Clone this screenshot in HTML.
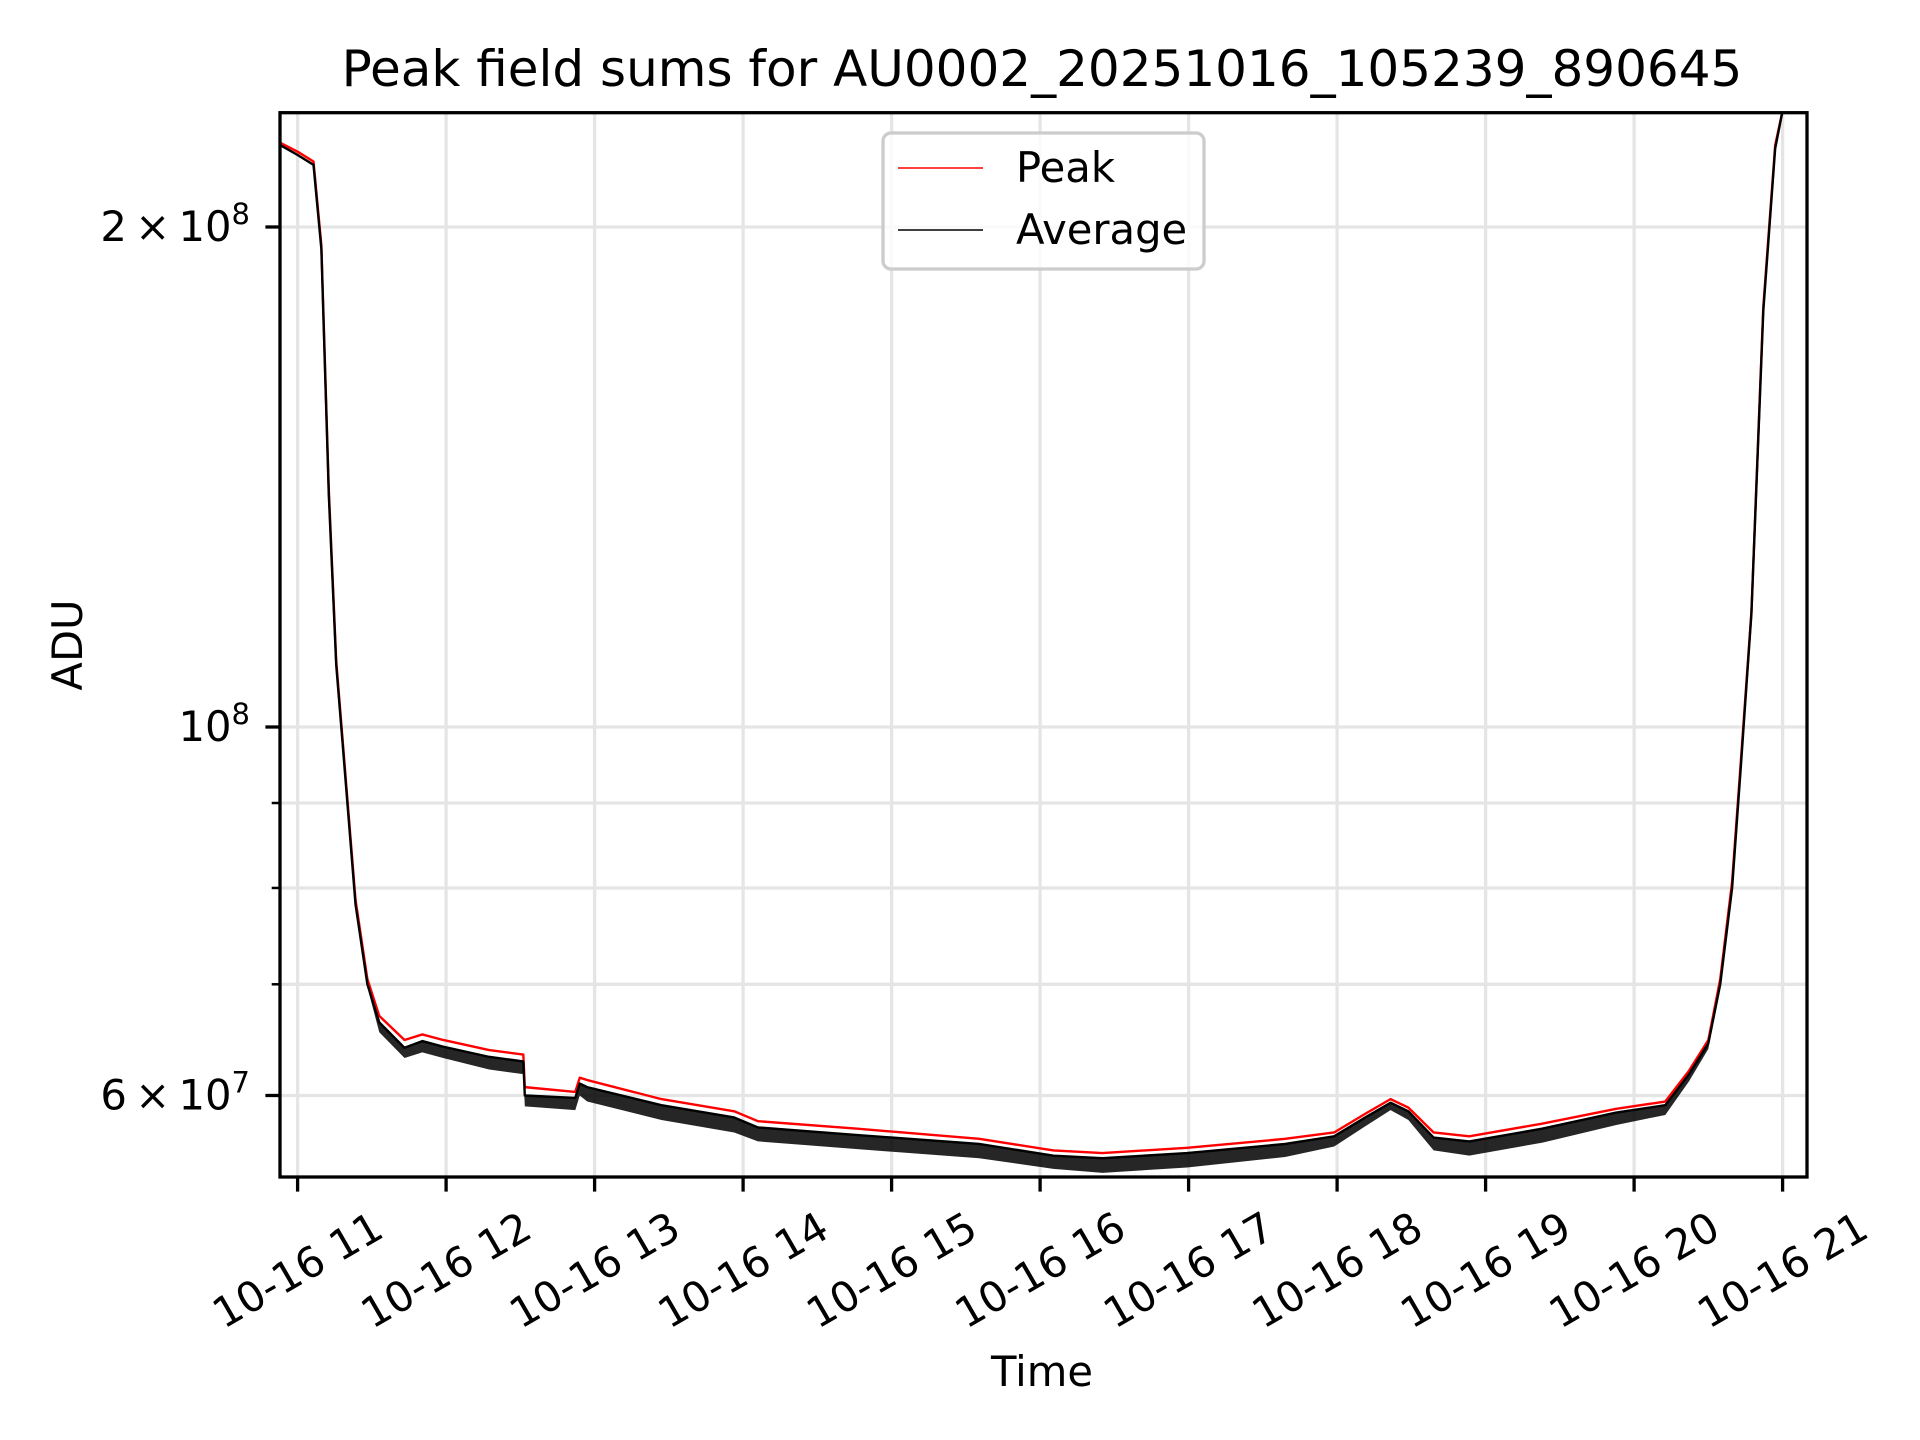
<!DOCTYPE html>
<html><head><meta charset="utf-8"><style>
html,body{margin:0;padding:0;background:#fff;}
svg{display:block;font-family:"DejaVu Sans","Liberation Sans",sans-serif;}
</style></head><body>
<svg id="chart" width="1920" height="1440" viewBox="0 0 1920 1440" xmlns="http://www.w3.org/2000/svg">
<rect width="1920" height="1440" fill="#fff"/>
<defs><clipPath id="clip"><rect x="280" y="112.7" width="1527" height="1064.3"/></clipPath></defs>
<text x="1042" y="86" font-size="50" text-anchor="middle">Peak field sums for AU0002_20251016_105239_890645</text>
<g id="grid"></g>
<g id="series" clip-path="url(#clip)"></g>
<rect x="280" y="112.7" width="1527" height="1064.3" fill="none" stroke="#000" stroke-width="3.3"/>
<g id="xticks"></g>
<g id="yticks"></g>
<text x="1042" y="1386" font-size="41.7" text-anchor="middle">Time</text>
<text transform="translate(82,645) rotate(-90)" font-size="41.7" text-anchor="middle">ADU</text>
<g>
<rect x="883" y="133" width="321" height="136" rx="8" fill="#fff" fill-opacity="0.8" stroke="#ccc" stroke-width="3.3"/>
<line x1="898" y1="168" x2="983" y2="168" stroke="#f00" stroke-width="1.6"/>
<text x="1016" y="182" font-size="41.7">Peak</text>
<line x1="898" y1="230" x2="983" y2="230" stroke="#000" stroke-width="1.6"/>
<text x="1016" y="244" font-size="41.7">Average</text>
</g>
</svg>
<script>
const hours = [10.885,11.0,11.107,11.16,11.21,11.26,11.30,11.39,11.47,11.55,11.72,11.84,11.98,12.29,12.52,12.53,12.87,12.90,12.95,13.45,13.94,14.1,14.77,15.59,16.09,16.42,16.99,17.65,17.98,18.19,18.36,18.48,18.65,18.89,19.38,19.88,20.21,20.37,20.50,20.58,20.66,20.72,20.79,20.87,20.95,21.0,21.02];
const peakVals = [2.247,2.22,2.19,1.95,1.39,1.096,0.99,0.787,0.705,0.670,0.648,0.653,0.648,0.639,0.635,0.607,0.603,0.615,0.613,0.597,0.587,0.579,0.573,0.565,0.556,0.554,0.558,0.565,0.570,0.585,0.597,0.590,0.570,0.567,0.577,0.589,0.595,0.621,0.648,0.705,0.807,0.957,1.173,1.79,2.24,2.35,2.45];
const avgVals = [2.24,2.21,2.18,1.94,1.38,1.09,0.985,0.782,0.700,0.664,0.641,0.647,0.642,0.633,0.629,0.600,0.598,0.610,0.607,0.592,0.582,0.574,0.568,0.561,0.552,0.550,0.554,0.561,0.567,0.582,0.594,0.587,0.566,0.563,0.573,0.586,0.592,0.618,0.645,0.700,0.800,0.950,1.17,1.78,2.23,2.35,2.45];
const avgLowVals = [2.24,2.21,2.18,1.94,1.38,1.09,0.985,0.782,0.697,0.655,0.632,0.637,0.632,0.622,0.618,0.591,0.588,0.600,0.595,0.580,0.570,0.563,0.557,0.550,0.542,0.539,0.543,0.551,0.559,0.575,0.588,0.580,0.556,0.552,0.562,0.576,0.584,0.612,0.640,0.700,0.800,0.950,1.17,1.78,2.23,2.35,2.45];
const xTickHours = [11,12,13,14,15,16,17,18,19,20,21];
const xTickLabels = ["10-16 11","10-16 12","10-16 13","10-16 14","10-16 15","10-16 16","10-16 17","10-16 18","10-16 19","10-16 20","10-16 21"];
const yMajor = [2e8,1e8,6e7];
const yMajorMant = ["2\u2009\u00d7\u200910","10","6\u2009\u00d7\u200910"];
const yMajorExp = ["8","8","7"];
const yMinor = [7e7,8e7,9e7];

const NS="http://www.w3.org/2000/svg";
function xs(h){return 297.6+(h-11)*148.5;}
function ys(v){return 727-1661*Math.log10(v/1e8);}
function mk(tag,attrs,parent){const e=document.createElementNS(NS,tag);for(const k in attrs)e.setAttribute(k,attrs[k]);parent.appendChild(e);return e;}
const gridG=document.getElementById('grid'),seriesG=document.getElementById('series'),xt=document.getElementById('xticks'),yt=document.getElementById('yticks');

xTickHours.forEach((h,i)=>{
  const x=xs(h);
  const g=mk('line',{x1:x,x2:x,y1:112.7,y2:1177,stroke:'#e5e5e5','stroke-width':3.3},gridG);
  
  
  const t=mk('line',{x1:x,x2:x,y1:1177,y2:1191.6,stroke:'#000','stroke-width':3.3},xt);
  
  
  const l=mk('text',{transform:`translate(${x},1270) rotate(-30)`,'font-size':41.7,'text-anchor':'middle','dominant-baseline':'central'},xt);
  l.textContent=xTickLabels[i];
  
  
});
yMajor.concat(yMinor).forEach((v,i)=>{
  const y=ys(v);
  const g=mk('line',{x1:280,x2:1807,y1:y,y2:y,stroke:'#e5e5e5','stroke-width':3.3},gridG);
  
  
  const major=i<yMajor.length;
  const t=mk('line',{x1:major?265.4:271.7,x2:280,y1:y,y2:y,stroke:'#000','stroke-width':major?3.3:2.5},yt);
  
  
  if(major){
    const l=mk('text',{x:250,y:y+14,'font-size':41.7,'text-anchor':'end'},yt);
    
    
    const a=mk('tspan',{},l);a.textContent=yMajorMant[i];
    const b=mk('tspan',{'font-size':29,dy:-17},l);b.textContent=yMajorExp[i];
  }
});

const peakPts=hours.map((h,i)=>xs(h)+','+ys(peakVals[i]*1e8)).join(' ');
const pk=mk('polyline',{points:peakPts,fill:'none',stroke:'#f00','stroke-width':2.4,'stroke-linejoin':'round'},seriesG);


const avgTopPts=hours.map((h,i)=>xs(h)+','+ys(avgVals[i]*1e8));
const avgBotPts=hours.map((h,i)=>xs(h)+','+ys(avgLowVals[i]*1e8)).reverse();
const band=mk('polygon',{points:avgTopPts.concat(avgBotPts).join(' '),fill:'#000','fill-opacity':0.85,stroke:'none'},seriesG);


const av=mk('polyline',{points:avgTopPts.join(' '),fill:'none',stroke:'#000','stroke-width':2.4,'stroke-linejoin':'round'},seriesG);


</script>
</body></html>
